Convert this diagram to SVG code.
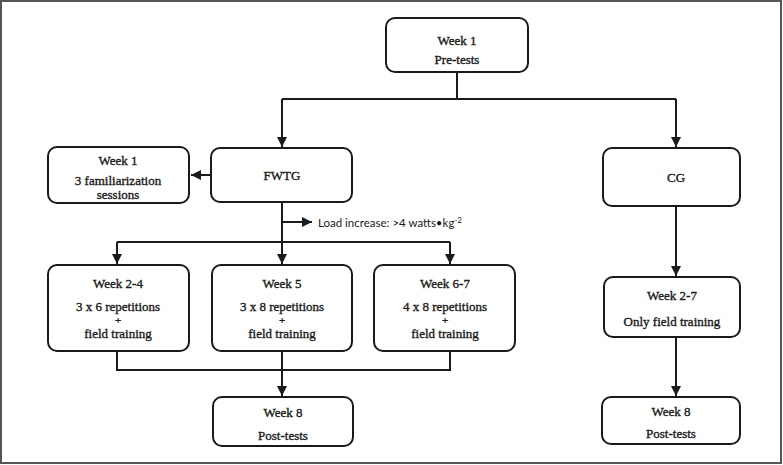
<svg xmlns="http://www.w3.org/2000/svg" width="783" height="465" viewBox="0 0 783 465">
<defs>
<marker id="ah" viewBox="0 0 10 10" refX="10" refY="5" markerWidth="5" markerHeight="5" orient="auto" markerUnits="strokeWidth">
<path d="M0,0 L10,5 L0,10 z" fill="#1a1a1a"/>
</marker>
<style>
.box{fill:#fff;stroke:#1a1a1a;stroke-width:2}
.t{font-family:"Liberation Serif","DejaVu Serif",serif;font-size:13px;fill:#1a1a1a;stroke:#1a1a1a;stroke-width:0.35;text-anchor:middle}
.p{font-size:11px}
.c{fill:none;stroke:#1a1a1a;stroke-width:2}
.s{font-family:Lato,"Liberation Sans",sans-serif;font-size:11.5px;fill:#1a1a1a}
</style>
</defs>
<rect x="1" y="1" width="780" height="462" fill="#fff" stroke="#555" stroke-width="2"/>
<g id="connectors">
<path class="c" d="M457,72 V99"/>
<path class="c" d="M282,99 H676"/>
<path class="c" d="M282,99 V147" marker-end="url(#ah)"/>
<path class="c" d="M676,99 V147" marker-end="url(#ah)"/>
<path class="c" d="M211,175 H191" marker-end="url(#ah)"/>
<path class="c" d="M282,202 V264" marker-end="url(#ah)"/>
<path class="c" d="M282,222 H312" marker-end="url(#ah)"/>
<path class="c" d="M117,242 H450"/>
<path class="c" d="M117,242 V264" marker-end="url(#ah)"/>
<path class="c" d="M450,242 V264" marker-end="url(#ah)"/>
<path class="c" d="M117,351 V370 H450 V351"/>
<path class="c" d="M282,351 V396" marker-end="url(#ah)"/>
<path class="c" d="M676,206 V276" marker-end="url(#ah)"/>
<path class="c" d="M676,337 V396" marker-end="url(#ah)"/>
<text class="s" x="318" y="227">Load increase: &gt;4 watts•kg<tspan dy="-4" font-size="8">-2</tspan></text>
</g>
<g id="pretests">
<rect class="box" x="386" y="18" width="142" height="54" rx="9"/>
<text class="t" x="457" y="45">Week 1</text>
<text class="t" x="457" y="64">Pre-tests</text>
</g>
<g id="familiarization">
<rect class="box" x="48" y="147" width="141" height="56" rx="9"/>
<text class="t" x="118" y="165">Week 1</text>
<text class="t" x="118" y="185">3 familiarization</text>
<text class="t" x="118" y="199">sessions</text>
</g>
<g id="fwtg">
<rect class="box" x="211" y="148" width="141" height="54" rx="9"/>
<text class="t" x="282" y="180">FWTG</text>
</g>
<g id="cg">
<rect class="box" x="603" y="148" width="137" height="58" rx="9"/>
<text class="t" x="676" y="182">CG</text>
</g>
<g id="week24">
<rect class="box" x="48" y="265" width="141" height="86" rx="9"/>
<text class="t" x="118" y="288">Week 2-4</text>
<text class="t" x="118" y="311">3 x 6 repetitions</text>
<text class="t p" x="118" y="324">+</text>
<text class="t" x="118" y="338">field training</text>
</g>
<g id="week5">
<rect class="box" x="212" y="265" width="140" height="86" rx="9"/>
<text class="t" x="282" y="288">Week 5</text>
<text class="t" x="282" y="311">3 x 8 repetitions</text>
<text class="t p" x="282" y="324">+</text>
<text class="t" x="282" y="338">field training</text>
</g>
<g id="week67">
<rect class="box" x="374" y="265" width="141" height="86" rx="9"/>
<text class="t" x="445" y="288">Week 6-7</text>
<text class="t" x="445" y="311">4 x 8 repetitions</text>
<text class="t p" x="445" y="324">+</text>
<text class="t" x="445" y="338">field training</text>
</g>
<g id="week27">
<rect class="box" x="604" y="277" width="136" height="60" rx="9"/>
<text class="t" x="672" y="300">Week 2-7</text>
<text class="t" x="672" y="326">Only field training</text>
</g>
<g id="posttests1">
<rect class="box" x="213" y="397" width="140" height="49" rx="9"/>
<text class="t" x="283" y="417">Week 8</text>
<text class="t" x="283" y="440">Post-tests</text>
</g>
<g id="posttests2">
<rect class="box" x="602" y="397" width="138" height="47" rx="9"/>
<text class="t" x="671" y="416">Week 8</text>
<text class="t" x="671" y="438">Post-tests</text>
</g>
</svg>
